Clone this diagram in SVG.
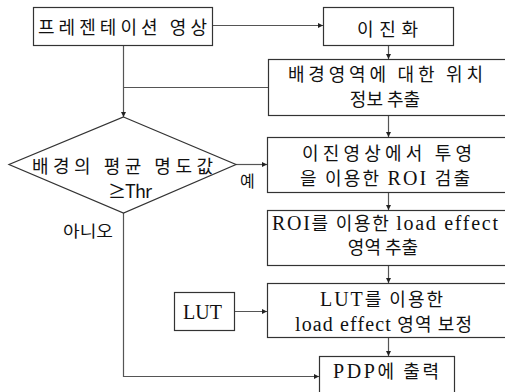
<svg xmlns="http://www.w3.org/2000/svg" width="505" height="392" viewBox="0 0 505 392">
<style>
.box{fill:#fff;stroke:#333;stroke-width:1.2}
.ln{fill:none;stroke:#555;stroke-width:1.2}
.k{font-family:"Noto Sans CJK KR","Noto Sans",sans-serif;font-size:18px;fill:#111}
.m{text-anchor:middle}
.s{font-family:"Liberation Serif",serif;font-size:20px}
.lab{font-family:"Noto Sans CJK KR","Noto Sans",sans-serif;font-size:16px;fill:#111}
</style>
<defs>
<marker id="ah" viewBox="0 0 6 6" refX="6" refY="3" markerWidth="5" markerHeight="5" orient="auto" markerUnits="userSpaceOnUse">
<path d="M0,0 L6,3 L0,6 z" fill="#222"/>
</marker>
</defs>
<rect width="505" height="392" fill="#fff"/>
<g id="connectors">
<path class="ln" d="M212,25.5 H323" marker-end="url(#ah)"/>
<path class="ln" d="M388.5,46 V59" marker-end="url(#ah)"/>
<path class="ln" d="M123.5,46 V117" marker-end="url(#ah)"/>
<path class="ln" d="M123.5,87.5 H268"/>
<path class="ln" d="M388.5,116 V137" marker-end="url(#ah)"/>
<path class="ln" d="M236,164.5 H267" marker-end="url(#ah)"/>
<path class="ln" d="M388.5,193 V210" marker-end="url(#ah)"/>
<path class="ln" d="M388.5,266 V283" marker-end="url(#ah)"/>
<path class="ln" d="M234,311.5 H267" marker-end="url(#ah)"/>
<path class="ln" d="M388.5,338 V356" marker-end="url(#ah)"/>
<path class="ln" d="M123.5,213 V376.5 H319" marker-end="url(#ah)"/>
</g>
<g id="n1">
<rect class="box" x="33.5" y="7.5" width="179" height="38"/>
<text class="k" x="38" y="34" textLength="169" lengthAdjust="spacing">프레젠테이션 영상</text>
</g>
<g id="n2">
<rect class="box" x="323.5" y="7.5" width="130" height="38"/>
<text class="k" x="357" y="36" textLength="61" lengthAdjust="spacing">이진화</text>
</g>
<g id="n3">
<rect class="box" x="268.5" y="59.5" width="242" height="56"/>
<text class="k" x="288" y="81" textLength="195" lengthAdjust="spacing">배경영역에 대한 위치</text>
<text class="k m" x="385" y="106">정보 추출</text>
</g>
<g id="n4">
<path class="box" d="M123.5,117 L236,164.5 L123.5,213 L9,164.5 Z"/>
<text class="k" x="32" y="173" textLength="181" lengthAdjust="spacing">배경의 평균 명도값</text>
<text class="k" x="108" y="198" textLength="44" lengthAdjust="spacing">≥Thr</text>
</g>
<text class="lab" x="240" y="187">예</text>
<text class="lab" x="63" y="237" textLength="50" lengthAdjust="spacingAndGlyphs">아니오</text>
<g id="n5">
<rect class="box" x="267.5" y="137.5" width="243" height="55"/>
<text class="k" x="302" y="160" textLength="170" lengthAdjust="spacing">이진영상에서 투영</text>
<text class="k" x="300" y="185" textLength="170" lengthAdjust="spacing">을 이용한 <tspan class="s">ROI</tspan> 검출</text>
</g>
<g id="n6">
<rect class="box" x="267.5" y="210.5" width="243" height="55"/>
<text class="k" x="272" y="230" textLength="226" lengthAdjust="spacing"><tspan class="s">ROI</tspan>를 이용한 <tspan class="s">load effect</tspan></text>
<text class="k m" x="383" y="254">영역 추출</text>
</g>
<g id="n7">
<rect class="box" x="174.5" y="292.5" width="60" height="38"/>
<text class="s" x="183" y="319" fill="#111">LUT</text>
</g>
<g id="n8">
<rect class="box" x="267.5" y="283.5" width="243" height="54"/>
<text class="k" x="320" y="306" textLength="123" lengthAdjust="spacing"><tspan class="s">LUT</tspan>를 이용한</text>
<text class="k" x="295" y="331" textLength="177" lengthAdjust="spacing"><tspan class="s">load effect</tspan> 영역 보정</text>
</g>
<g id="n9">
<rect class="box" x="319.5" y="356.5" width="135" height="45"/>
<text class="k" x="333" y="378" textLength="106" lengthAdjust="spacing"><tspan class="s">PDP</tspan>에 출력</text>
</g>
</svg>
